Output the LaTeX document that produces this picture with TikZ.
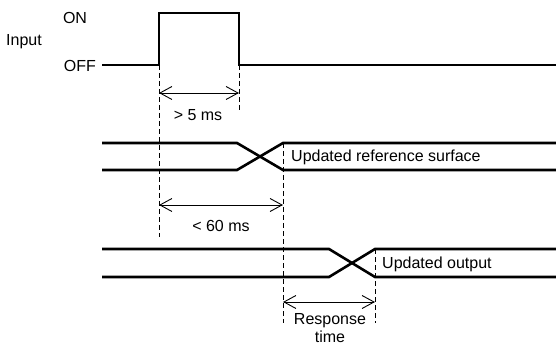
\documentclass[tikz,border=0pt]{standalone}
\usepackage{fontspec}
\setmainfont{Liberation Sans}
\usetikzlibrary{arrows.meta}
\begin{document}
\begin{tikzpicture}[x=1pt,y=-1pt,
  sig/.style={line width=2.6pt, line join=miter},
  dim/.style={line width=0.9pt, {Straight Barb[length=12pt,width=13pt]}-{Straight Barb[length=12pt,width=13pt]}},
  guide/.style={line width=0.9pt, dash pattern=on 5pt off 3pt},
  lbl/.style={inner sep=0pt, font=\fontsize{16}{19}\selectfont}]
\useasboundingbox (0,0) rectangle (556,347);
% labels
\node[lbl] (on) at (75,18) {ON};
\node[lbl,anchor=west] (input) at (6,42) {Input};
\node[lbl,anchor=east] (off) at (96,66) {OFF};
% input signal
\coordinate (i0) at (102,65);
\coordinate (i1) at (159,65);
\coordinate (i2) at (159,13);
\coordinate (i3) at (239,13);
\coordinate (i4) at (239,65);
\coordinate (i5) at (556,65);
\draw[sig] (i0) -- (i1) -- (i2) -- (i3) -- (i4) -- (i5);
% reference surface signal
\coordinate (r0t) at (102,143);
\coordinate (r0b) at (102,170);
\coordinate (r1t) at (237,143);
\coordinate (r1b) at (237,170);
\coordinate (r2t) at (283,143);
\coordinate (r2b) at (283,170);
\coordinate (r3t) at (556,143);
\coordinate (r3b) at (556,170);
\draw[sig] (r0t) -- (r1t) -- (r2b) -- (r3b);
\draw[sig] (r0b) -- (r1b) -- (r2t) -- (r3t);
\node[lbl,anchor=west] (reflbl) at (291,157) {Updated reference surface};
% output signal
\coordinate (o0t) at (102,249);
\coordinate (o0b) at (102,277);
\coordinate (o1t) at (329,249);
\coordinate (o1b) at (329,277);
\coordinate (o2t) at (375,249);
\coordinate (o2b) at (375,277);
\coordinate (o3t) at (556,249);
\coordinate (o3b) at (556,277);
\draw[sig] (o0t) -- (o1t) -- (o2b) -- (o3b);
\draw[sig] (o0b) -- (o1b) -- (o2t) -- (o3t);
\node[lbl,anchor=west] (outlbl) at (382,264) {Updated output};
% guides
\coordinate (g1e) at (159,237);
\coordinate (g2e) at (239,111);
\coordinate (g3e) at (283,323);
\coordinate (g4e) at (375,323);
\draw[guide] (i1) -- (g1e);
\draw[guide] (i4) -- (g2e);
\draw[guide] (r2t) -- (g3e);
\draw[guide] (o2t) -- (g4e);
% dimension arrows
\coordinate (a1l) at (159,93);
\coordinate (a1r) at (239,93);
\coordinate (a2l) at (159,205);
\coordinate (a2r) at (283,205);
\coordinate (a3l) at (283,302);
\coordinate (a3r) at (375,302);
\draw[dim] (a1l) -- (a1r);
\draw[dim] (a2l) -- (a2r);
\draw[dim] (a3l) -- (a3r);
\node[lbl] (t1) at (198,115) {> 5 ms};
\node[lbl] (t2) at (221,226) {< 60 ms};
\node[lbl,align=center,font=\fontsize{16}{18}\selectfont] (t3) at (330,328) {Response\\time};
\end{tikzpicture}
\end{document}
